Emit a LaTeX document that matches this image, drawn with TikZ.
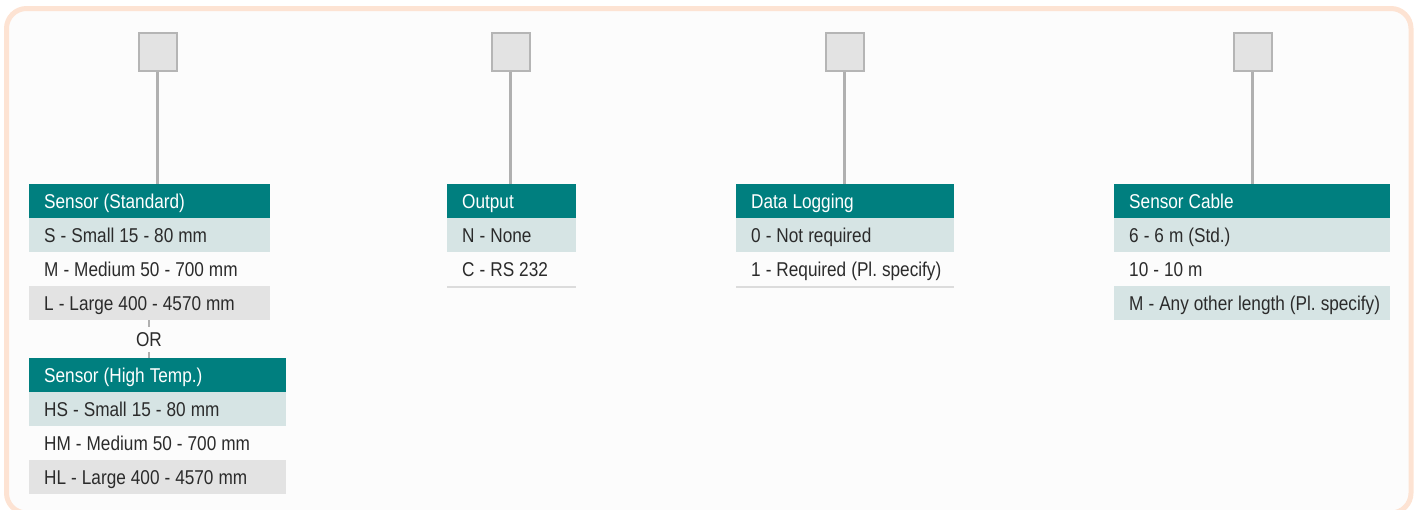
\documentclass[tikz,border=0pt]{standalone}
\usepackage{fontspec}
\setmainfont{Liberation Sans}[FakeStretch=0.86]
\usepackage{tikz}

\definecolor{hdrteal}{HTML}{007F7F}
\definecolor{rowteal}{HTML}{D6E4E4}
\definecolor{rowgrey}{HTML}{E3E3E3}
\definecolor{txtgrey}{HTML}{2B2B2B}
\definecolor{boxfill}{HTML}{E3E3E3}
\definecolor{boxline}{HTML}{B5B5B5}
\definecolor{stemgrey}{HTML}{B0B0B0}
\definecolor{rulegrey}{HTML}{DCDCDC}
\definecolor{framepeach}{HTML}{FDE3D3}

\tikzset{
  cell/.style={anchor=north west, inner xsep=0pt, inner ysep=9.75pt,
    text height=14.5pt, text depth=0pt, text width=#1, align=left,
    text=txtgrey, execute at begin node={\noindent\hspace*{15pt}\hbox\bgroup\frenchspacing\spaceskip=5pt\relax},
    execute at end node={\egroup}},
  hdr/.style={cell=#1, fill=hdrteal, text=white},
  rowa/.style={cell=#1, fill=rowteal},
  rowb/.style={cell=#1},
  rowc/.style={cell=#1, fill=rowgrey},
  pick/.style={draw=boxline, line width=2pt, fill=boxfill, minimum size=38pt, inner sep=0pt},
  stem/.style={draw=stemgrey, line width=3pt},
  rule/.style={draw=rulegrey, line width=2pt},
}

\begin{document}
\begin{tikzpicture}[x=1pt, y=-1pt]
         \fontsize{20}{24}\selectfont
         \useasboundingbox (0,0) rectangle (1421,509);
         \draw[framepeach, line width=5pt, fill=white!99!black, rounded corners=20pt]
            (6.5,8.5) rectangle (1411,513);

         % selection boxes
         \node[pick] at (157.5,51.5) (q1) {};
         \node[pick] at (510.5,51.5) (q2) {};
         \node[pick] at (844.5,51.5) (q3) {};
         \node[pick] at (1252.5,51.5) (q4) {};

         % sensor
         \node[hdr=241pt] at (29,184) (s1) {Sensor (Standard)};
         \node[rowa=241pt] at (29,218) (s11) {S - Small 15 - 80 mm};
         \node[rowb=241pt] at (29,252) (s12) {M - Medium 50 - 700 mm};
         \node[rowc=241pt] at (29,286) (s13) {L - Large 400 - 4570 mm};
         \node[text=txtgrey, inner sep=0pt, inner ysep=5.25pt, text height=14.5pt, text depth=0pt]
            at (149,339.5) (or1) {OR};
         \node[hdr=257pt] at (29,358) (s2) {Sensor (High Temp.)};
         \node[rowa=257pt] at (29,392) (s21) {HS - Small 15 - 80 mm};
         \node[rowb=257pt] at (29,426) (s22) {HM - Medium 50 - 700 mm};
         \node[rowc=257pt] at (29,460) (s23) {HL - Large 400 - 4570 mm};

         % output
         \node[hdr=129pt] at (447,184) (o1) {Output};
         \node[rowa=129pt] at (447,218) (o11) {N - None};
         \node[rowb=129pt] at (447,252) (o12) {C - RS 232};

         % data logging
         \node[hdr=218pt] at (736,184) (d1) {Data Logging};
         \node[rowa=218pt] at (736,218) (d11) {0 - Not required};
         \node[rowb=218pt] at (736,252) (d12) {1 - Required (Pl. specify)};

         % sensor cable
         \node[hdr=276pt] at (1114,184) (c1) {Sensor Cable};
         \node[rowa=276pt] at (1114,218) (c11) {6 - 6 m (Std.)};
         \node[rowb=276pt] at (1114,252) (c12) {10 - 10 m};
         \node[rowa=276pt] at (1114,286) (c13) {M - Any other length (Pl. specify)};

         \draw[stem] (q1.south) -- (q1.south |- s1.north);
         \draw[stem] (q2.south) -- (q2.south |- o1.north);
         \draw[stem] (q3.south) -- (q3.south |- d1.north);
         \draw[stem] (q4.south) -- (q4.south |- c1.north);
         \draw[stem, line width=2.5pt] (s13.south -| or1) -- (or1.north);
         \draw[stem, line width=2.5pt] (or1.south) -- (s2.north -| or1);

         \draw[rule] ([yshift=-1pt]o12.south west) -- ([yshift=-1pt]o12.south east);
         \draw[rule] ([yshift=-1pt]d12.south west) -- ([yshift=-1pt]d12.south east);
      \end{tikzpicture}
\end{document}
